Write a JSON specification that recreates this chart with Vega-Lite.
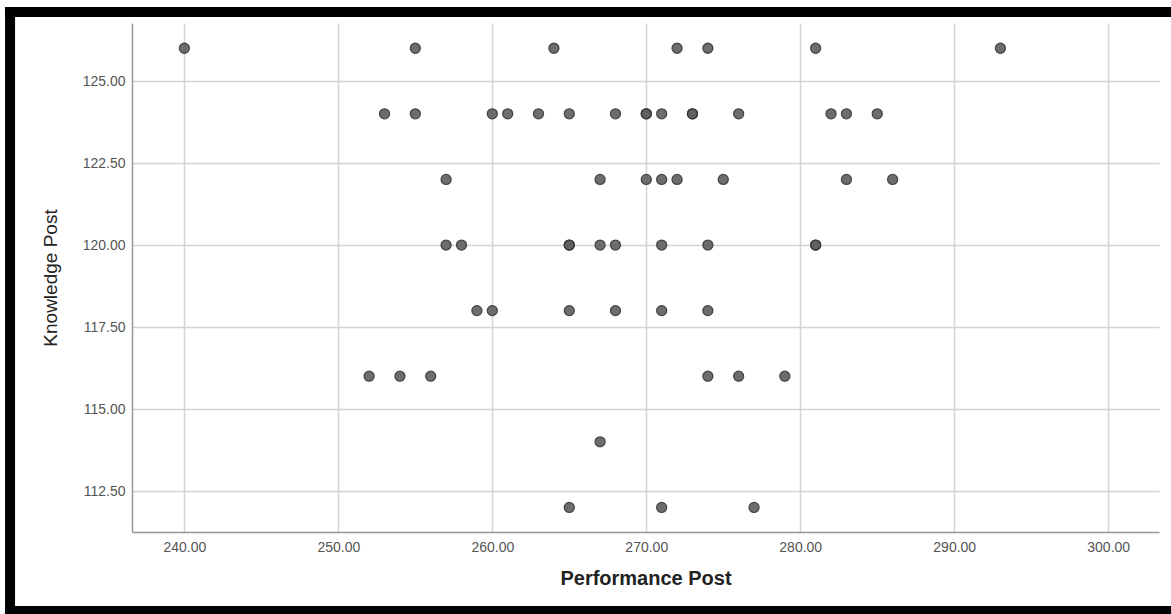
{
  "$schema": "https://vega.github.io/schema/vega-lite/v6.json",
  "width": 1027,
  "height": 509,
  "autosize": "none",
  "padding": {"left": 132, "top": 23, "right": 12, "bottom": 82},
  "background": "white",
  "config": {
    "view": {"stroke": null},
    "font": "Liberation Sans",
    "axis": {
      "labelFont": "Liberation Sans",
      "titleFont": "Liberation Sans",
      "labelFontSize": 14,
      "labelColor": "#555555",
      "titleColor": "#222222",
      "domainColor": "#999999",
      "domainWidth": 1.5,
      "grid": true,
      "gridColor": "#d4d4d4",
      "gridWidth": 1.5,
      "ticks": false
    }
  },
  "layer": [
    {
      "data": {"values": [{"frame": "left"}]},
      "mark": {"type": "rule", "stroke": "black", "strokeWidth": 10, "clip": false},
      "encoding": {
        "x": {"datum": 228.68, "type": "quantitative", "axis": {"grid": true}},
        "y": {"datum": 127.25, "type": "quantitative", "axis": {"grid": true}},
        "y2": {"datum": 108.70}
      }
    },
    {
      "data": {"values": [{"frame": "top"}]},
      "mark": {"type": "rule", "stroke": "black", "strokeWidth": 10, "clip": false},
      "encoding": {
        "x": {"datum": 228.35, "type": "quantitative"},
        "x2": {"datum": 304.4},
        "y": {"datum": 127.105, "type": "quantitative"}
      }
    },
    {
      "data": {"values": [{"frame": "bottom"}]},
      "mark": {"type": "rule", "stroke": "black", "strokeWidth": 10, "clip": false},
      "encoding": {
        "x": {"datum": 228.35, "type": "quantitative"},
        "x2": {"datum": 304.4},
        "y": {"datum": 108.84, "type": "quantitative"}
      }
    },
    {
      "data": {
        "values": [
          {"performance": 240, "knowledge": 126},
          {"performance": 255, "knowledge": 126},
          {"performance": 264, "knowledge": 126},
          {"performance": 272, "knowledge": 126},
          {"performance": 274, "knowledge": 126},
          {"performance": 281, "knowledge": 126},
          {"performance": 293, "knowledge": 126},
          {"performance": 253, "knowledge": 124},
          {"performance": 255, "knowledge": 124},
          {"performance": 260, "knowledge": 124},
          {"performance": 261, "knowledge": 124},
          {"performance": 263, "knowledge": 124},
          {"performance": 265, "knowledge": 124},
          {"performance": 268, "knowledge": 124},
          {"performance": 270, "knowledge": 124},
          {"performance": 270, "knowledge": 124},
          {"performance": 271, "knowledge": 124},
          {"performance": 273, "knowledge": 124},
          {"performance": 273, "knowledge": 124},
          {"performance": 276, "knowledge": 124},
          {"performance": 282, "knowledge": 124},
          {"performance": 283, "knowledge": 124},
          {"performance": 285, "knowledge": 124},
          {"performance": 257, "knowledge": 122},
          {"performance": 267, "knowledge": 122},
          {"performance": 270, "knowledge": 122},
          {"performance": 271, "knowledge": 122},
          {"performance": 272, "knowledge": 122},
          {"performance": 275, "knowledge": 122},
          {"performance": 283, "knowledge": 122},
          {"performance": 286, "knowledge": 122},
          {"performance": 257, "knowledge": 120},
          {"performance": 258, "knowledge": 120},
          {"performance": 265, "knowledge": 120},
          {"performance": 265, "knowledge": 120},
          {"performance": 267, "knowledge": 120},
          {"performance": 268, "knowledge": 120},
          {"performance": 271, "knowledge": 120},
          {"performance": 274, "knowledge": 120},
          {"performance": 281, "knowledge": 120},
          {"performance": 281, "knowledge": 120},
          {"performance": 259, "knowledge": 118},
          {"performance": 260, "knowledge": 118},
          {"performance": 265, "knowledge": 118},
          {"performance": 268, "knowledge": 118},
          {"performance": 271, "knowledge": 118},
          {"performance": 274, "knowledge": 118},
          {"performance": 252, "knowledge": 116},
          {"performance": 254, "knowledge": 116},
          {"performance": 256, "knowledge": 116},
          {"performance": 274, "knowledge": 116},
          {"performance": 276, "knowledge": 116},
          {"performance": 279, "knowledge": 116},
          {"performance": 267, "knowledge": 114},
          {"performance": 265, "knowledge": 112},
          {"performance": 271, "knowledge": 112},
          {"performance": 277, "knowledge": 112}
        ]
      },
      "mark": {"type": "point", "shape": "circle", "filled": true, "fill": "#5e5e5e", "stroke": "#333333", "strokeWidth": 1.3, "size": 100, "opacity": 0.9},
      "encoding": {
        "x": {
          "field": "performance",
          "type": "quantitative",
          "title": "Performance Post",
          "scale": {"domain": [236.6, 303.3], "nice": false, "zero": false},
          "axis": {
            "grid": true,
            "values": [240, 250, 260, 270, 280, 290, 300],
            "format": ".2f",
            "labelPadding": 8,
            "titlePadding": 14,
            "titleFontSize": 20,
            "titleFontWeight": "bold"
          }
        },
        "y": {
          "field": "knowledge",
          "type": "quantitative",
          "title": "Knowledge Post",
          "scale": {"domain": [111.25, 126.77], "nice": false, "zero": false},
          "axis": {
            "grid": true,
            "values": [112.5, 115, 117.5, 120, 122.5, 125],
            "format": ".2f",
            "labelPadding": 7,
            "titlePadding": 22,
            "titleFontSize": 19,
            "titleFontWeight": "normal"
          }
        }
      }
    }
  ]
}
